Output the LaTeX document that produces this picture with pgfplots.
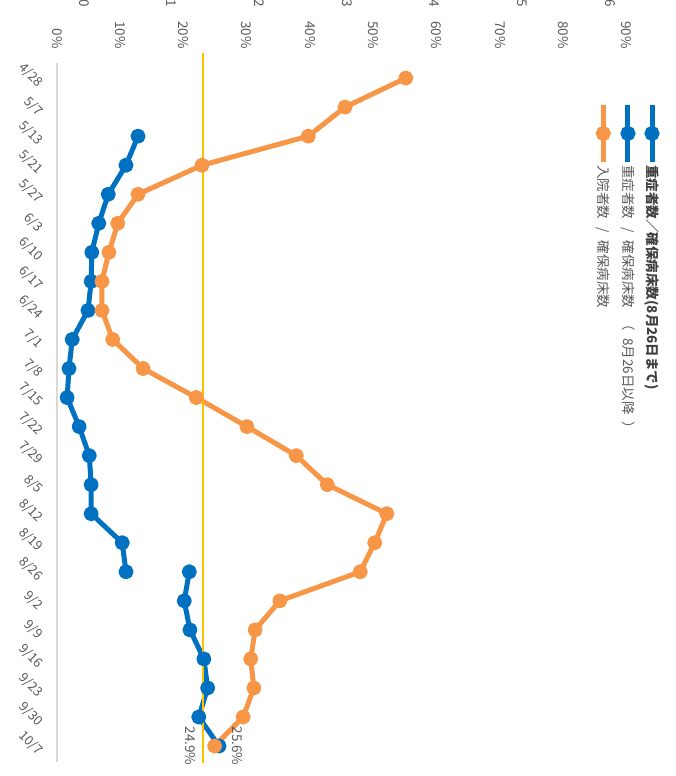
\documentclass[border=0pt]{standalone}
\usepackage{pgfplots}
\pgfplotsset{compat=1.18}
\usepackage{fontspec}
\setmainfont{Noto Sans CJK JP}
\definecolor{cblue}{RGB}{0,112,192}
\definecolor{corange}{RGB}{247,150,70}
\definecolor{cyellow}{RGB}{255,192,0}
\definecolor{cgray}{RGB}{89,89,89}
\definecolor{cdark}{RGB}{64,64,64}
\definecolor{caxis}{RGB}{217,217,217}
\begin{document}
\begin{tikzpicture}[x=1pt,y=1pt]
% secondary (cut-off) axis at the top
\begin{axis}[at={(57pt,14pt)}, anchor=south west, scale only axis,
  width=601.35pt, height=754.5pt,
  xmin=-0.308, xmax=6.551, ymin=0, ymax=1,
  axis x line*=top, hide y axis,
  x axis line style={draw=none},
  major tick length=0pt,
  xtick={0,1,2,3,4,5,6}, xticklabels={0,1,2,3,4,5,6},
  xticklabel style={rotate=-90, anchor=east, inner sep=0pt, text=cgray, font=\fontsize{13.5}{15}\selectfont},
]
\addplot[draw=none] coordinates {(0,0.5)};
\end{axis}
\begin{axis}[at={(57pt,14pt)}, anchor=south west, scale only axis,
  width=601.35pt, height=699pt,
  xmin=0, xmax=95, ymin=-0.52, ymax=23.55, y dir=reverse,
  clip=false,
  axis x line*=top, axis y line*=left,
  x axis line style={draw=none},
  y axis line style={draw=caxis, line width=1.5pt},
  major tick length=0pt,
  xtick={0,10,20,30,40,50,60,70,80,90},
  xticklabels={0\%,10\%,20\%,30\%,40\%,50\%,60\%,70\%,80\%,90\%},
  xticklabel style={yshift=11pt, rotate=-90, anchor=east, text=cgray, font=\fontsize{13.5}{15}\selectfont},
  ytick={0,...,23},
  yticklabels={4/28,5/7,5/13,5/21,5/27,6/3,6/10,6/17,6/24,7/1,7/8,7/15,7/22,7/29,8/5,8/12,8/19,8/26,9/2,9/9,9/16,9/23,9/30,10/7},
  yticklabel style={xshift=-14pt, yshift=-9pt, rotate=-45, anchor=east, text=cgray, font=\fontsize{13}{15}\selectfont},
]
\addplot[cblue, line width=5pt, line join=round, mark=*, mark size=5pt] coordinates {
(12.8,2) (10.9,3) (8.1,4) (6.6,5) (5.5,6) (5.4,7) (4.9,8) (2.4,9) (1.9,10) (1.6,11)
(3.5,12) (5.1,13) (5.4,14) (5.4,15) (10.3,16) (10.9,17)};
\addplot[cblue, line width=5pt, line join=round, mark=*, mark size=5pt] coordinates {
(20.9,17) (20.1,18) (21.0,19) (23.2,20) (23.8,21) (22.4,22) (25.6,23)};
\addplot[corange, line width=5pt, line join=round, mark=*, mark size=5pt] coordinates {
(55.1,0) (45.5,1) (39.7,2) (22.9,3) (12.8,4) (9.6,5) (8.2,6) (7.1,7) (7.1,8) (8.8,9)
(13.6,10) (22.0,11) (30.0,12) (37.8,13) (42.7,14) (52.1,15) (50.2,16) (47.9,17)
(35.2,18) (31.3,19) (30.6,20) (31.1,21) (29.4,22) (24.9,23)};
\addplot[cyellow, line width=1.5pt, forget plot] coordinates {(23.1,-0.87) (23.1,23.58)};
% value labels
\node[xshift=-24.6pt, rotate=-90, text=cgray, font=\fontsize{13.5}{15}\selectfont] at (axis cs:24.9,23) {24.9\%};
\node[xshift=18pt, rotate=-90, text=cgray, font=\fontsize{13.5}{15}\selectfont] at (axis cs:25.6,23) {25.6\%};
% legend (rotated)
\addplot[cblue, line width=5pt, mark=*, mark size=5pt, mark repeat=2, mark phase=2, forget plot]
  coordinates {(94.0,0.926) (94.0,1.907) (94.0,2.889)};
\addplot[cblue, line width=5pt, mark=*, mark size=5pt, mark repeat=2, mark phase=2, forget plot]
  coordinates {(90.2,0.926) (90.2,1.907) (90.2,2.889)};
\addplot[corange, line width=5pt, mark=*, mark size=5pt, mark repeat=2, mark phase=2, forget plot]
  coordinates {(86.3,0.926) (86.3,1.907) (86.3,2.889)};
\node[rotate=-90, anchor=west, inner sep=0pt, text=cdark, font=\fontsize{13.5}{15}\selectfont] at (axis cs:94.0,3.0) {\textbf{重症者数／確保病床数(8月26日まで)}};
\node[rotate=-90, anchor=west, inner sep=0pt, text=cgray, font=\fontsize{13.5}{15}\selectfont] at (axis cs:90.2,3.0) {重症者数\hspace{0.6em}/\hspace{0.6em}確保病床数\hspace{0.7em}（\hspace{0.5em}8月26日以降\hspace{0.5em}）};
\node[rotate=-90, anchor=west, inner sep=0pt, text=cgray, font=\fontsize{13.5}{15}\selectfont] at (axis cs:86.3,3.0) {入院者数\hspace{0.6em}/\hspace{0.6em}確保病床数};
\end{axis}
\pgfresetboundingbox
\path[use as bounding box] (0,0) rectangle (676,776);
\end{tikzpicture}
\end{document}
